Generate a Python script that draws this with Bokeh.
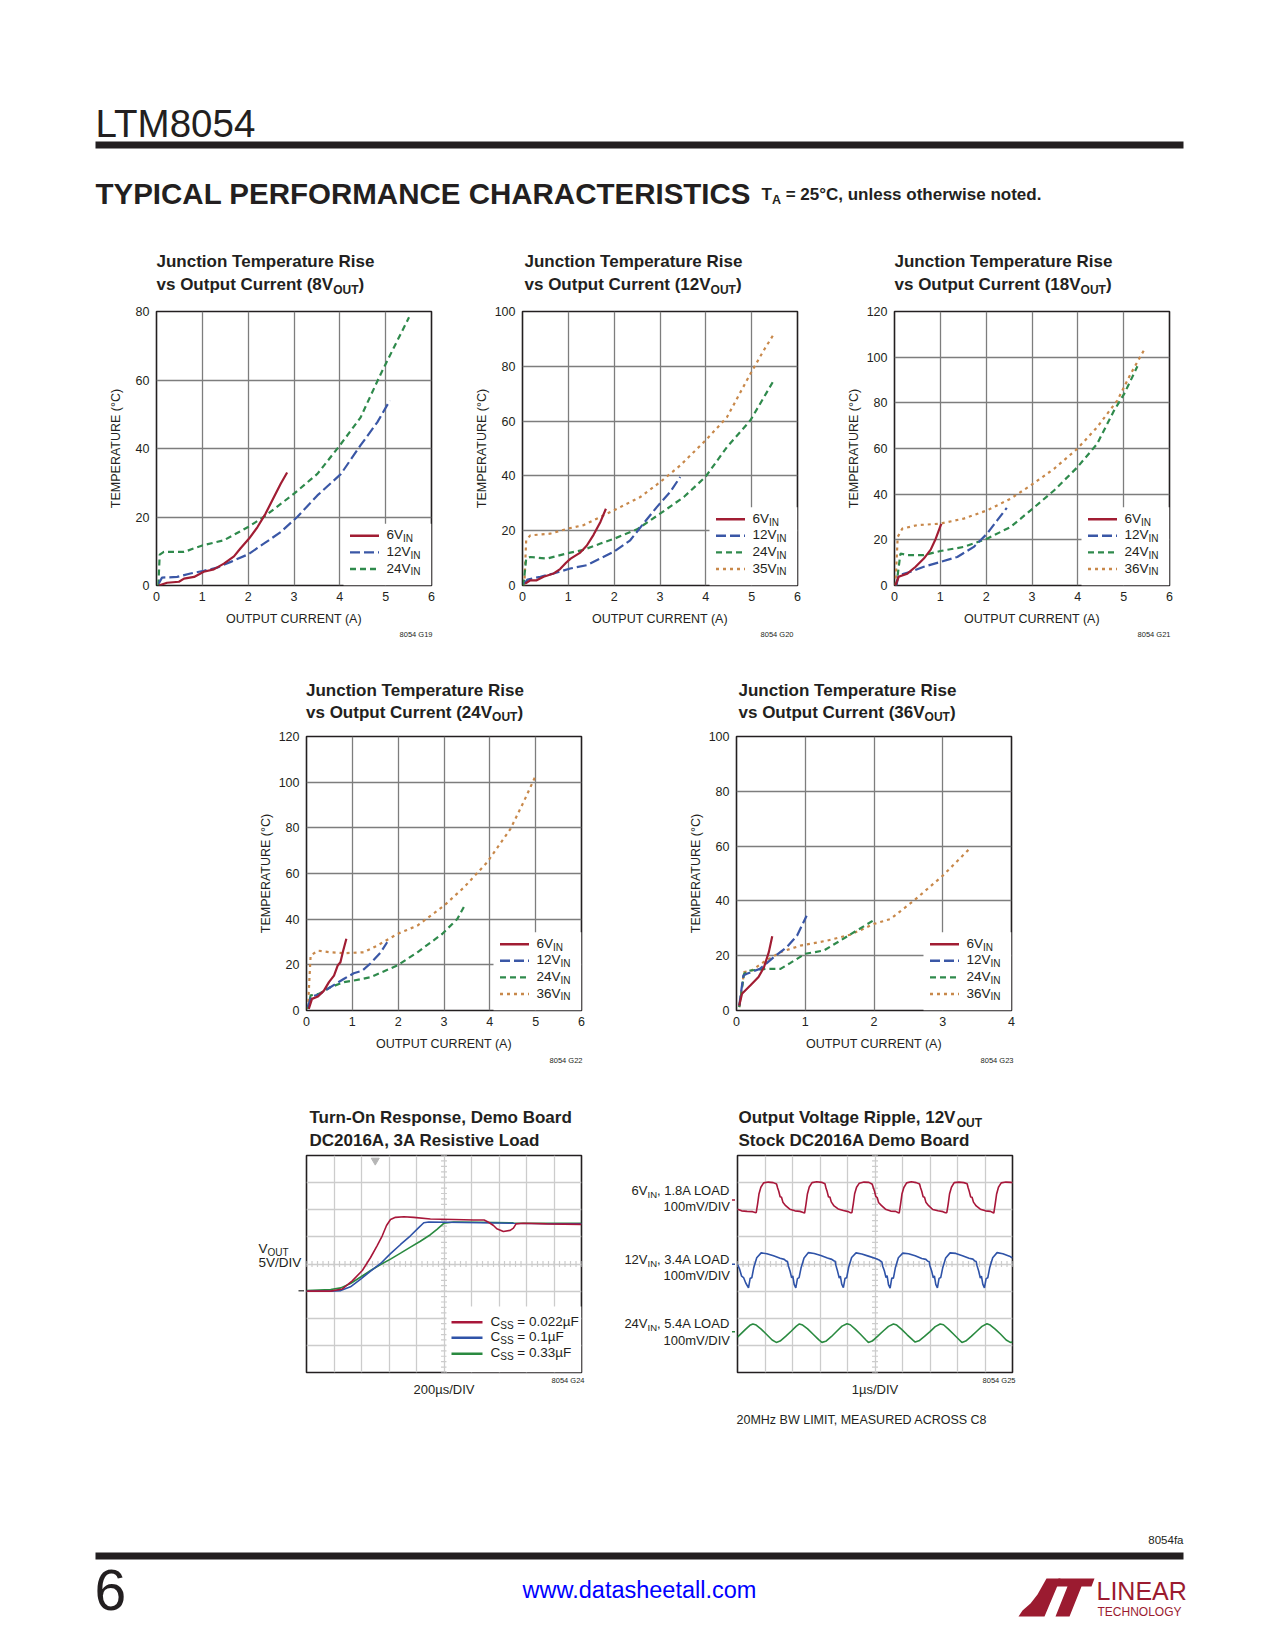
from bokeh.plotting import figure
from bokeh.models import Range1d, Label, FixedTicker, Grid
from bokeh.layouts import column, row
from bokeh.embed import file_html
from bokeh.resources import INLINE
import numpy as np

# ---------------------------------------------------------------- data
X_TICKS_6 = [0, 1, 2, 3, 4, 5, 6]
X_TICKS_4 = [0, 1, 2, 3, 4]
Y_TICKS_80 = [0, 20, 40, 60, 80]
Y_TICKS_100 = [0, 20, 40, 60, 80, 100]
Y_TICKS_120 = [0, 20, 40, 60, 80, 100, 120]

# 8V OUT
I1_6 = [0.05, 0.23, 0.49, 0.60, 0.82, 1.03, 1.25, 1.47, 1.69, 1.83, 2.02, 2.20, 2.38, 2.56, 2.71, 2.85]
T1_6 = [0.0, 0.8, 1.1, 2.0, 2.5, 4.0, 4.7, 6.4, 8.5, 10.8, 13.7, 17.0, 21.0, 25.8, 29.7, 33.0]
I1_12 = [0.05, 0.12, 0.45, 0.74, 1.03, 1.32, 1.62, 2.00, 2.34, 2.71, 3.07, 3.51, 4.02, 4.45, 4.82, 5.09]
T1_12 = [0.6, 2.3, 2.5, 3.5, 4.3, 5.2, 6.9, 9.1, 12.2, 15.6, 20.0, 26.3, 32.5, 40.9, 47.7, 54.0]
I1_24 = [0.04, 0.07, 0.16, 0.60, 1.00, 1.47, 2.00, 2.34, 3.00, 3.51, 4.00, 4.45, 4.89, 5.18, 5.51]
T1_24 = [0.0, 9.0, 9.8, 9.8, 11.7, 13.2, 17.1, 20.0, 26.8, 32.6, 40.9, 49.0, 61.7, 69.5, 78.3]

# 12V OUT
I2_6 = [0.06, 0.17, 0.31, 0.46, 0.68, 0.82, 0.95, 1.05, 1.26, 1.40, 1.55, 1.70, 1.82]
T2_6 = [0.7, 1.9, 1.9, 3.2, 4.4, 6.0, 8.3, 9.8, 12.0, 14.5, 18.5, 23.2, 28.0]
I2_12 = [0.04, 0.11, 0.39, 0.68, 1.04, 1.40, 1.99, 2.35, 2.64, 2.93, 3.22, 3.44]
T2_12 = [0.7, 2.2, 3.2, 4.4, 6.2, 7.4, 12.3, 16.5, 22.6, 28.6, 34.1, 39.6]
I2_24 = [0.02, 0.08, 0.17, 0.53, 0.97, 1.33, 1.70, 1.99, 2.50, 3.00, 3.52, 3.99, 4.46, 4.97, 5.48]
T2_24 = [0.0, 9.8, 10.4, 9.8, 11.7, 13.0, 15.3, 17.0, 20.5, 26.2, 32.3, 39.6, 50.5, 60.2, 74.8]
I2_35 = [0.04, 0.08, 0.17, 0.60, 1.00, 1.33, 1.99, 2.57, 3.00, 3.44, 3.99, 4.46, 4.97, 5.26, 5.48]
T2_35 = [0.0, 16.5, 18.3, 18.9, 20.8, 22.0, 27.4, 32.3, 37.7, 43.8, 52.9, 61.4, 77.2, 85.7, 91.7]

# 18V OUT
I3_6 = [0.02, 0.09, 0.28, 0.46, 0.64, 0.79, 0.90, 1.02]
T3_6 = [0.0, 3.8, 5.2, 8.2, 11.8, 15.7, 20.5, 27.0]
I3_12 = [0.04, 0.09, 0.35, 0.64, 1.00, 1.37, 1.73, 2.02, 2.24, 2.45]
T3_12 = [0.0, 4.5, 6.0, 8.2, 10.3, 12.5, 16.9, 22.7, 28.5, 34.0]
I3_24 = [0.04, 0.13, 0.28, 0.64, 1.00, 1.51, 2.02, 2.53, 2.97, 3.48, 3.99, 4.42, 4.79, 5.01, 5.15, 5.30]
T3_24 = [0.0, 14.0, 13.3, 13.3, 15.1, 16.9, 20.5, 25.6, 32.9, 41.6, 51.8, 62.0, 76.6, 83.9, 89.7, 96.0]
I3_36 = [0.02, 0.07, 0.17, 0.49, 1.00, 1.51, 2.02, 2.53, 2.97, 3.48, 3.99, 4.42, 4.86, 5.15, 5.47]
T3_36 = [0.0, 21.3, 24.9, 26.4, 27.1, 29.3, 32.9, 38.0, 43.8, 51.1, 59.9, 69.3, 81.0, 92.6, 104.0]

# 24V OUT
I4_6 = [0.05, 0.12, 0.25, 0.38, 0.49, 0.60, 0.68, 0.74, 0.80, 0.87]
T4_6 = [0.7, 5.1, 6.1, 8.7, 12.4, 15.3, 19.7, 21.1, 26.2, 31.4]
I4_12 = [0.03, 0.10, 0.27, 0.52, 0.82, 1.03, 1.22, 1.40, 1.62, 1.76]
T4_12 = [1.5, 6.1, 7.0, 10.2, 13.9, 16.3, 17.5, 20.7, 25.5, 29.9]
I4_24 = [0.03, 0.09, 0.27, 0.52, 0.82, 1.03, 1.40, 1.98, 2.42, 2.96, 3.29, 3.47]
T4_24 = [0.7, 6.6, 7.3, 10.2, 12.4, 13.1, 14.6, 19.7, 25.5, 33.5, 40.1, 46.7]
I4_36 = [0.03, 0.09, 0.25, 0.52, 0.82, 1.25, 1.54, 1.98, 2.42, 3.00, 3.44, 3.94, 4.45, 4.75, 5.00]
T4_36 = [0.7, 24.1, 26.2, 25.5, 25.1, 25.5, 28.4, 33.5, 37.2, 45.9, 54.0, 64.9, 79.5, 91.9, 102.8]

# 36V OUT
I5_6 = [0.04, 0.08, 0.20, 0.32, 0.40, 0.47, 0.52]
T5_6 = [1.8, 6.1, 9.1, 12.2, 15.8, 21.3, 27.1]
I5_12 = [0.04, 0.10, 0.15, 0.34, 0.54, 0.73, 0.88, 1.02]
T5_12 = [1.8, 12.8, 13.4, 15.2, 19.4, 23.1, 27.3, 34.6]
I5_24 = [0.04, 0.11, 0.20, 0.44, 0.64, 0.78, 1.00, 1.27, 1.51, 1.75, 2.00]
T5_24 = [1.2, 13.4, 14.6, 15.2, 15.2, 17.3, 20.7, 21.9, 25.5, 29.2, 33.0]
I5_36 = [0.04, 0.11, 0.22, 0.39, 0.64, 0.93, 1.32, 1.66, 2.00, 2.24, 2.58, 3.00, 3.40]
T5_36 = [1.2, 14.0, 14.6, 17.6, 21.3, 23.7, 25.5, 27.7, 31.6, 33.4, 40.1, 49.2, 59.3]

# Turn-on response (time in us, Vout in V), 200us/DIV, 5V/DIV, ground at 3 DIV
TON_T_022 = [0, 176, 261, 333, 406, 466, 514, 551, 582, 611, 647, 708, 780, 901, 1070, 1215, 1292, 1324, 1360, 1384, 1432, 1481, 1505, 1524, 1577, 1746, 2000]
TON_V_022 = [0.0, 0.0, 0.4, 1.9, 3.8, 6.2, 8.4, 10.2, 12.1, 13.2, 13.6, 13.7, 13.6, 13.3, 13.2, 13.1, 13.1, 12.7, 12.1, 11.5, 11.0, 11.2, 11.6, 12.4, 12.5, 12.4, 12.3]
TON_T_01 = [0, 176, 249, 320, 394, 466, 539, 611, 684, 756, 816, 853, 889, 1022, 1263, 1505, 2000]
TON_V_01 = [0.0, 0.0, 0.1, 0.8, 2.2, 3.7, 5.1, 6.9, 8.6, 10.2, 11.7, 12.6, 12.75, 12.7, 12.6, 12.5, 12.4]
TON_T_033 = [0, 176, 249, 320, 394, 466, 539, 611, 684, 756, 828, 901, 949, 998, 1070, 1263, 1505, 2000]
TON_V_033 = [0.1, 0.3, 0.6, 1.4, 2.6, 3.8, 4.9, 5.9, 7.0, 8.1, 9.2, 10.4, 11.4, 12.5, 12.75, 12.7, 12.6, 12.5]
TON_LABELS = ["0.022µF", "0.1µF", "0.33µF"]
TON_US_PER_DIV = 200
TON_V_PER_DIV = 5
TON_GROUND_DIV = 3
TON_TRIGGER_US = 500

# Output ripple (time in us = DIV, level in screen DIV)
RIP_T_6 = [0.00, 0.15, 0.35, 0.55, 0.64,
           0.68, 0.73, 0.78, 0.85, 0.95, 1.12, 1.30, 1.42, 1.46, 1.50, 1.55, 1.60, 1.65, 1.75, 1.90, 2.09, 2.27, 2.39,
           2.44, 2.49, 2.54, 2.61, 2.71, 2.88, 3.06, 3.18, 3.22, 3.26, 3.31, 3.36, 3.41, 3.51, 3.66, 3.85, 4.03, 4.11,
           4.16, 4.21, 4.26, 4.33, 4.43, 4.60, 4.78, 4.90, 4.94, 4.98, 5.03, 5.08, 5.13, 5.23, 5.38, 5.57, 5.75, 5.83,
           5.88, 5.93, 5.98, 6.05, 6.15, 6.32, 6.50, 6.62, 6.66, 6.70, 6.75, 6.80, 6.85, 6.95, 7.10, 7.29, 7.47, 7.56,
           7.61, 7.66, 7.71, 7.78, 7.88, 8.05, 8.23, 8.35, 8.39, 8.43, 8.48, 8.53, 8.58, 8.68, 8.83, 9.02, 9.20, 9.28,
           9.32, 9.37, 9.42, 9.49, 9.59, 9.76, 9.94, 10.00]
RIP_V_6 = [6.02, 5.96, 5.94, 5.93, 5.90,
           5.89, 6.21, 6.58, 6.83, 6.99, 7.02, 7.00, 6.95, 6.80, 6.68, 6.48, 6.46, 6.28, 6.15, 6.02, 5.96, 5.94, 5.90,
           5.88, 6.20, 6.57, 6.84, 7.00, 7.03, 7.01, 6.96, 6.79, 6.67, 6.47, 6.47, 6.29, 6.14, 6.03, 5.97, 5.93, 5.89,
           5.89, 6.22, 6.59, 6.83, 6.98, 7.02, 7.01, 6.94, 6.81, 6.69, 6.49, 6.45, 6.27, 6.16, 6.02, 5.95, 5.94, 5.90,
           5.88, 6.21, 6.58, 6.82, 6.99, 7.03, 7.00, 6.95, 6.80, 6.68, 6.48, 6.46, 6.28, 6.15, 6.01, 5.96, 5.93, 5.89,
           5.89, 6.20, 6.58, 6.83, 7.00, 7.02, 7.00, 6.96, 6.80, 6.67, 6.47, 6.46, 6.28, 6.14, 6.02, 5.96, 5.94, 5.90,
           5.88, 6.21, 6.57, 6.83, 6.99, 7.02, 7.01, 7.00]
RIP_T_12 = [0.00, 0.08, 0.15, 0.22, 0.30, 0.40,
            0.46, 0.52, 0.59, 0.70, 0.86, 1.07, 1.31, 1.55,
            1.70, 1.77, 1.82, 1.85, 1.91, 1.97, 2.01, 2.06, 2.12, 2.18, 2.24, 2.31, 2.42, 2.58, 2.79, 3.03, 3.27,
            3.43, 3.50, 3.55, 3.58, 3.64, 3.70, 3.74, 3.79, 3.85, 3.91, 3.97, 4.04, 4.15, 4.31, 4.52, 4.76, 5.00,
            5.13, 5.20, 5.25, 5.28, 5.34, 5.40, 5.44, 5.49, 5.55, 5.61, 5.67, 5.74, 5.85, 6.01, 6.22, 6.46, 6.70,
            6.85, 6.92, 6.97, 7.00, 7.06, 7.12, 7.16, 7.21, 7.27, 7.33, 7.39, 7.46, 7.57, 7.73, 7.94, 8.18, 8.42,
            8.56, 8.63, 8.68, 8.71, 8.77, 8.83, 8.87, 8.92, 8.98, 9.04, 9.10, 9.17, 9.28, 9.44, 9.65, 9.89, 10.00]
RIP_V_12 = [3.99, 3.80, 3.55, 3.50, 3.30, 3.12,
            3.47, 3.49, 3.86, 4.23, 4.41, 4.38, 4.30, 4.21,
            4.17, 4.11, 4.09, 3.93, 3.74, 3.49, 3.56, 3.25, 3.12, 3.46, 3.50, 3.85, 4.22, 4.42, 4.39, 4.31, 4.22,
            4.17, 4.12, 4.10, 3.94, 3.73, 3.48, 3.55, 3.26, 3.13, 3.47, 3.49, 3.87, 4.24, 4.41, 4.37, 4.29, 4.21,
            4.16, 4.11, 4.08, 3.92, 3.75, 3.50, 3.57, 3.24, 3.11, 3.48, 3.48, 3.86, 4.23, 4.40, 4.38, 4.30, 4.20,
            4.17, 4.10, 4.09, 3.93, 3.74, 3.49, 3.56, 3.25, 3.12, 3.47, 3.50, 3.85, 4.22, 4.41, 4.39, 4.30, 4.21,
            4.18, 4.11, 4.09, 3.94, 3.74, 3.48, 3.55, 3.26, 3.12, 3.46, 3.49, 3.86, 4.23, 4.42, 4.38, 4.29, 4.22]
RIP_T_24 = [0.00, 0.15, 0.30, 0.45, 0.56, 0.68, 0.86, 1.06, 1.26, 1.41, 1.55, 1.75, 1.95, 2.13, 2.25,
            2.37, 2.55, 2.75, 2.95, 3.07, 3.21, 3.41, 3.61, 3.80, 3.98, 4.10, 4.28, 4.48, 4.68, 4.76,
            4.90, 5.10, 5.30, 5.49, 5.67, 5.79, 5.97, 6.17, 6.37, 6.46, 6.60, 6.80, 7.00, 7.19, 7.37,
            7.49, 7.67, 7.87, 8.07, 8.16, 8.30, 8.50, 8.70, 8.89, 9.07, 9.19, 9.37, 9.57, 9.77, 9.92, 10.00]
RIP_V_24 = [1.30, 1.45, 1.60, 1.74, 1.79, 1.75, 1.60, 1.40, 1.20, 1.11, 1.16, 1.33, 1.52, 1.70, 1.79,
            1.75, 1.61, 1.41, 1.21, 1.11, 1.15, 1.32, 1.52, 1.71, 1.80, 1.76, 1.60, 1.40, 1.19, 1.11,
            1.16, 1.34, 1.53, 1.70, 1.79, 1.75, 1.59, 1.39, 1.20, 1.12, 1.17, 1.33, 1.51, 1.69, 1.79,
            1.76, 1.60, 1.40, 1.20, 1.11, 1.16, 1.33, 1.52, 1.70, 1.80, 1.75, 1.60, 1.41, 1.20, 1.11, 1.12]
RIP_MARKERS_DIV = [6.40, 3.99, 1.46]
RIP_LABELS = [("6V", ", 1.8A LOAD"), ("12V", ", 3.4A LOAD"), ("24V", ", 5.4A LOAD")]

# ---------------------------------------------------------------- style
FONT = "Liberation Sans"
INK = "#231f20"
RED = "#a11d33"
BLUE = "#3a57a6"
GREEN = "#2f8a4c"
ORANGE = "#c8884a"
GRID = "#7d7d7d"
SGRID = "#cccccc"
S_RED = "#a8173a"
S_BLUE = "#2f53a8"
S_GREEN = "#2a8a40"
LOGO = "#9b1b30"

_R = {' ': 278, '(': 333, ')': 333, '/': 278, ',': 278, '.': 278, '-': 333, '=': 584, '°': 400, 'µ': 576}
_B = {' ': 278, '(': 333, ')': 333, '/': 278, ',': 278, '.': 278, '-': 333, '=': 584, '°': 400, 'µ': 611}
for _d in '0123456789':
    _R[_d] = 556
    _B[_d] = 556
_R.update(dict(zip("ABCDEFGHIJKLMNOPQRSTUVWXYZ", [667, 667, 722, 722, 667, 611, 778, 722, 278, 500, 667, 556, 833, 722, 778, 667, 778, 722, 667, 611, 722, 667, 944, 667, 667, 611])))
_R.update(dict(zip("abcdefghijklmnopqrstuvwxyz", [556, 556, 500, 556, 556, 278, 556, 556, 222, 222, 500, 222, 833, 556, 556, 556, 556, 333, 500, 278, 556, 500, 722, 500, 500, 500])))
_B.update(dict(zip("ABCDEFGHIJKLMNOPQRSTUVWXYZ", [722, 722, 722, 722, 667, 611, 778, 722, 278, 556, 722, 611, 833, 722, 778, 667, 778, 722, 667, 611, 722, 667, 944, 667, 667, 611])))
_B.update(dict(zip("abcdefghijklmnopqrstuvwxyz", [556, 611, 556, 611, 556, 333, 611, 611, 278, 278, 556, 278, 889, 611, 611, 611, 611, 389, 556, 333, 611, 556, 778, 556, 556, 500])))


def tw(s, size, bold=False):
    d = _B if bold else _R
    return sum(d.get(c, 556) for c in s) / 1000.0 * size


class Pane:
    """A figure placed at page position (fig_left, fig_top) whose frame sits at (fl, ft, fw, fh)."""

    def __init__(self, fig_left, fig_top, width, height, fl=None, ft=None, fw=None, fh=None,
                 xr=None, yr=None, axes=False):
        fl = fig_left if fl is None else fl
        ft = fig_top if ft is None else ft
        fw = width if fw is None else fw
        fh = height if fh is None else fh
        xr = (0, fw) if xr is None else xr
        yr = (0, fh) if yr is None else yr
        self.fl, self.ft, self.fw, self.fh = fl, ft, fw, fh
        self.xr, self.yr = xr, yr
        self.p = figure(width=width, height=height,
                        x_range=Range1d(*xr), y_range=Range1d(*yr),
                        min_border_left=fl - fig_left, min_border_right=fig_left + width - fl - fw,
                        min_border_top=ft - fig_top, min_border_bottom=fig_top + height - ft - fh,
                        output_backend="svg", toolbar_location=None,
                        x_axis_type="linear" if axes else None,
                        y_axis_type="linear" if axes else None)
        self.p.title.visible = False
        self.p.background_fill_color = "white"
        self.p.border_fill_color = "white"
        self.p.outline_line_color = None

    def dx(self, px):
        return self.xr[0] + (px - self.fl) * (self.xr[1] - self.xr[0]) / self.fw

    def dy(self, py):
        return self.yr[1] - (py - self.ft) * (self.yr[1] - self.yr[0]) / self.fh

    def label(self, px, py, text, size, bold=False, align="left", color=INK):
        # py is the text baseline; the label is anchored at its vertical middle
        cy = py - 0.35 * size
        self.p.add_layout(Label(x=self.dx(px), y=self.dy(cy), text=text, text_font=FONT,
                                text_font_size="%.1fpx" % size,
                                text_font_style="bold" if bold else "normal",
                                text_align=align, text_baseline="middle", text_color=color))

    def rich(self, px, py, pieces, size, bold=False, align="left", color=INK, sub_size=None, drop=None):
        ss = sub_size if sub_size else size * 0.72
        dr = drop if drop is not None else size * 0.2
        widths = [tw(t, ss if s else size, bold) for t, s in pieces]
        total = sum(widths)
        x = px if align == "left" else (px - total if align == "right" else px - total / 2)
        for (t, s), w in zip(pieces, widths):
            sz = ss if s else size
            stripped = t.lstrip(" ")
            lead = tw(t[:len(t) - len(stripped)], sz, bold)
            self.label(x + lead, py + (dr if s else 0), stripped, sz, bold=bold, color=color)
            x += w


def title2(P, x, y1, y2, line1, line2_pieces, line1_sub=None):
    P.label(x, y1, line1, 17, bold=True)
    if line1_sub:
        P.label(x + tw(line1, 17, True), y1 + 3, line1_sub, 12, bold=True)
    P.rich(x, y2, line2_pieces, 17, bold=True, sub_size=12, drop=3)


STYLE = {"6V": (RED, "solid"), "12V": (BLUE, "10 4"), "24V": (GREEN, "6 4"),
         "35V": (ORANGE, "3 4"), "36V": (ORANGE, "3 4")}


def temp_chart(P, xt, yt, series, y_standoff):
    p = P.p
    p.xaxis.ticker = FixedTicker(ticks=xt)
    p.yaxis.ticker = FixedTicker(ticks=yt)
    p.xgrid.ticker = FixedTicker(ticks=xt)
    p.ygrid.ticker = FixedTicker(ticks=yt)
    p.xgrid.grid_line_color = GRID
    p.ygrid.grid_line_color = GRID
    p.xgrid.grid_line_width = 1.3
    p.ygrid.grid_line_width = 1.3
    for ax in (p.xaxis[0], p.yaxis[0]):
        ax.axis_line_color = None
        ax.major_tick_line_color = None
        ax.minor_tick_line_color = None
        ax.major_tick_out = 0
        ax.major_tick_in = 0
        ax.major_label_text_font = FONT
        ax.major_label_text_font_size = "12.5px"
        ax.major_label_text_color = INK
        ax.axis_label_text_font = FONT
        ax.axis_label_text_font_size = "12.5px"
        ax.axis_label_text_font_style = "normal"
        ax.axis_label_text_color = INK
    p.xaxis.axis_label = "OUTPUT CURRENT (A)"
    p.yaxis.axis_label = "TEMPERATURE (°C)"
    p.xaxis.major_label_standoff = 6
    p.yaxis.major_label_standoff = 7
    p.xaxis.axis_label_standoff = 8
    p.yaxis.axis_label_standoff = y_standoff
    p.outline_line_color = INK
    p.outline_line_width = 1.6
    for xs, ys, name in reversed(series):
        col, dash = STYLE[name]
        p.line(xs, ys, line_color=col, line_width=2.2, line_dash=dash)
    # legend (white box, samples, labels with subscripts)
    fr = P.fl + P.fw
    fb = P.ft + P.fh
    n = len(series)
    centers = [fb - (16.5 + 16.6 * k) for k in range(n)][::-1]
    p.quad(left=[P.dx(fr - 88)], right=[P.dx(fr)], bottom=[P.dy(fb)], top=[P.dy(centers[0] - 12)],
           fill_color="white", line_color=None)
    for (xs, ys, name), c in zip(series, centers):
        col, dash = STYLE[name]
        p.segment(x0=[P.dx(fr - 81.5)], x1=[P.dx(fr - 52.5)], y0=[P.dy(c)], y1=[P.dy(c)],
                  line_color=col, line_width=2.4, line_dash=dash)
        P.rich(fr - 45, c + 3.8, [(name, False), ("IN", True)], 13.5, sub_size=10, drop=2.5)


def scope_base(P):
    p = P.p
    p.outline_line_color = INK
    p.outline_line_width = 1.6
    p.add_layout(Grid(dimension=0, ticker=FixedTicker(ticks=list(range(0, 11))),
                      grid_line_color=SGRID, grid_line_width=1.3))
    p.add_layout(Grid(dimension=1, ticker=FixedTicker(ticks=list(range(0, 9))),
                      grid_line_color=SGRID, grid_line_width=1.3))
    tx = np.arange(0, 10.001, 0.2)
    ty = np.arange(0, 8.001, 0.2)
    hx = 3.0 * 10 / P.fw
    hy = 3.0 * 8 / P.fh
    p.segment(x0=tx, x1=tx, y0=4 - hy, y1=4 + hy, line_color=SGRID, line_width=1.2)
    p.segment(x0=5 - hx, x1=5 + hx, y0=ty, y1=ty, line_color=SGRID, line_width=1.2)


W = 1270
# ---------------------------------------------------------------- panes (page coordinates)
BA = Pane(0, 0, W, 301)                                   # header + row-1 titles
P1 = Pane(0, 301, 470, 329, 156, 311, 275, 274, (0, 6), (0, 80), True)
P2 = Pane(470, 301, 365, 329, 522, 311, 275, 274, (0, 6), (0, 100), True)
P3 = Pane(835, 301, W - 835, 329, 894, 311, 275, 274, (0, 6), (0, 120), True)
BB = Pane(0, 630, W, 96)                                  # row-1 codes + row-2 titles
P4 = Pane(0, 726, 650, 329, 306, 736, 275, 274, (0, 6), (0, 120), True)
P5 = Pane(650, 726, W - 650, 329, 736, 736, 275, 274, (0, 4), (0, 100), True)
BC = Pane(0, 1055, W, 98)                                 # row-2 codes + row-3 titles
TL = Pane(0, 1153, 304, 221)
P6 = Pane(304, 1153, 279, 221, 306, 1155, 275, 217, (0, 10), (0, 8), False)
TM = Pane(583, 1153, 152, 221)
P7 = Pane(735, 1153, 279, 221, 737, 1155, 275, 217, (0, 10), (0, 8), False)
TR = Pane(1014, 1153, W - 1014, 221)
BD = Pane(0, 1374, W, 271)                                # row-3 notes + footer

# ---- header
BA.label(95, 136, "LTM8054", 38.5)
BA.p.quad(left=[BA.dx(95)], right=[BA.dx(1183)], top=[BA.dy(141)], bottom=[BA.dy(148)],
          fill_color=INK, line_color=None)
BA.label(95, 203, "TYPICAL PERFORMANCE CHARACTERISTICS", 29.5, bold=True)
BA.rich(761, 200, [("T", False), ("A", True), (" = 25°C, unless otherwise noted.", False)], 17, bold=True,
        sub_size=12.5, drop=3.5)

# ---- titles
L1 = "Junction Temperature Rise"
title2(BA, 156, 267.2, 290.2, L1, [("vs Output Current (8V", False), ("OUT", True), (")", False)])
title2(BA, 524, 267.2, 290.2, L1, [("vs Output Current (12V", False), ("OUT", True), (")", False)])
title2(BA, 894, 267.2, 290.2, L1, [("vs Output Current (18V", False), ("OUT", True), (")", False)])
title2(BB, 305.5, 695.5, 718.0, L1, [("vs Output Current (24V", False), ("OUT", True), (")", False)])
title2(BB, 738, 695.5, 718.0, L1, [("vs Output Current (36V", False), ("OUT", True), (")", False)])
title2(BC, 309, 1123.2, 1145.5, "Turn-On Response, Demo Board", [("DC2016A, 3A Resistive Load", False)])
title2(BC, 738, 1123.2, 1145.5, "Output Voltage Ripple, 12V", [("Stock DC2016A Demo Board", False)],
       line1_sub="OUT")

# ---- codes
BB.label(432, 636.5, "8054 G19", 7.5, align="right")
BB.label(793, 636.5, "8054 G20", 7.5, align="right")
BB.label(1170, 636.5, "8054 G21", 7.5, align="right")
BC.label(582, 1062.5, "8054 G22", 7.5, align="right")
BC.label(1013, 1062.5, "8054 G23", 7.5, align="right")

# ---- temperature charts
temp_chart(P1, X_TICKS_6, Y_TICKS_80,
           [(I1_6, T1_6, "6V"), (I1_12, T1_12, "12V"), (I1_24, T1_24, "24V")], 10)
temp_chart(P2, X_TICKS_6, Y_TICKS_100,
           [(I2_6, T2_6, "6V"), (I2_12, T2_12, "12V"), (I2_24, T2_24, "24V"), (I2_35, T2_35, "35V")], 3)
temp_chart(P3, X_TICKS_6, Y_TICKS_120,
           [(I3_6, T3_6, "6V"), (I3_12, T3_12, "12V"), (I3_24, T3_24, "24V"), (I3_36, T3_36, "36V")], 3)
temp_chart(P4, X_TICKS_6, Y_TICKS_120,
           [(I4_6, T4_6, "6V"), (I4_12, T4_12, "12V"), (I4_24, T4_24, "24V"), (I4_36, T4_36, "36V")], 3)
temp_chart(P5, X_TICKS_4, Y_TICKS_100,
           [(I5_6, T5_6, "6V"), (I5_12, T5_12, "12V"), (I5_24, T5_24, "24V"), (I5_36, T5_36, "36V")], 3)

# ---- turn-on scope
scope_base(P6)
p6 = P6.p
for ts, vs, col in [(TON_T_033, TON_V_033, S_GREEN), (TON_T_01, TON_V_01, S_BLUE), (TON_T_022, TON_V_022, S_RED)]:
    p6.line([t / TON_US_PER_DIV for t in ts], [TON_GROUND_DIV + v / TON_V_PER_DIV for v in vs],
            line_color=col, line_width=1.6)
p6.scatter(x=[TON_TRIGGER_US / TON_US_PER_DIV], y=[P6.dy(1160)], marker="inverted_triangle",
           size=8, color="#b5b5b5")
fr6 = P6.fl + P6.fw
fb6 = P6.ft + P6.fh
p6.quad(left=[P6.dx(fr6 - 135)], right=[P6.dx(fr6)], bottom=[P6.dy(fb6)], top=[P6.dy(fb6 - 66)],
        fill_color="white", line_color=None)
for lab, col, up in zip(TON_LABELS, [S_RED, S_BLUE, S_GREEN], [50.3, 34.7, 18.7]):
    c = fb6 - up
    p6.segment(x0=[P6.dx(fr6 - 130)], x1=[P6.dx(fr6 - 99)], y0=[P6.dy(c)], y1=[P6.dy(c)],
               line_color=col, line_width=2.6)
    P6.rich(fr6 - 91, c + 3.8, [("C", False), ("SS", True), (" = " + lab, False)], 13.5, sub_size=10, drop=2.5)
# ground marker just left of the frame
gy = P6.ft + P6.fh * (1 - TON_GROUND_DIV / 8)
TL.p.segment(x0=[TL.dx(298)], x1=[TL.dx(304)], y0=[TL.dy(gy)], y1=[TL.dy(gy)],
             line_color="#555555", line_width=1.5)
TL.rich(258, 1252.5, [("V", False), ("OUT", True)], 13.5, sub_size=10, drop=2.5)
TL.label(258, 1267.2, "5V/DIV", 13.5)

# ---- ripple scope
scope_base(P7)
p7 = P7.p
for ts, vs, col in [(RIP_T_6, RIP_V_6, S_RED), (RIP_T_12, RIP_V_12, S_BLUE), (RIP_T_24, RIP_V_24, S_GREEN)]:
    p7.line(ts, vs, line_color=col, line_width=1.6)
for m, col in zip(RIP_MARKERS_DIV, [S_RED, S_BLUE, S_GREEN]):
    my = P7.ft + P7.fh * (1 - m / 8)
    TM.p.segment(x0=[TM.dx(731.5)], x1=[TM.dx(735)], y0=[TM.dy(my)], y1=[TM.dy(my)],
                 line_color=col, line_width=1.5)
for (a, b), y1, y2 in zip(RIP_LABELS, [1193.5, 1263.5, 1328.5], [1209.5, 1279.8, 1345.5]):
    TM.rich(729.5, y1, [(a, False), ("IN", True), (b, False)], 13, align="right", sub_size=9.5, drop=2.5)
    TM.label(729.5, y2, "100mV/DIV", 13, align="right")

# ---- below row 3 and footer
BD.label(443.5, 1393.4, "200µs/DIV", 13, align="center")
BD.label(584, 1383, "8054 G24", 7.5, align="right")
BD.label(874.5, 1393.4, "1µs/DIV", 13, align="center")
BD.label(1015, 1383, "8054 G25", 7.5, align="right")
BD.label(736, 1423.4, "20MHz BW LIMIT, MEASURED ACROSS C8", 12.5)

BD.label(1183, 1544, "8054fa", 11.5, align="right")
BD.p.quad(left=[BD.dx(95)], right=[BD.dx(1183)], top=[BD.dy(1552)], bottom=[BD.dy(1559)],
          fill_color=INK, line_color=None)
BD.label(94, 1609, "6", 57)
BD.label(639, 1598, "www.datasheetall.com", 23.5, align="center", color="#0000ff")
lx = [[1046, 1060, 1044, 1018, 1022, 1030, 1037], [1058, 1094, 1091, 1081, 1069, 1055, 1067, 1055]]
ly = [[1578, 1578, 1616, 1616, 1610, 1603, 1594], [1578, 1578, 1586, 1586, 1616, 1616, 1586, 1586]]
BD.p.patches([[BD.dx(v) for v in xs] for xs in lx], [[BD.dy(v) for v in ys] for ys in ly],
             fill_color=LOGO, line_color=None)
BD.label(1096, 1599, "LINEAR", 25, color=LOGO)
BD.label(1097, 1615.5, "TECHNOLOGY", 12, color=LOGO)

layout = column(BA.p,
                row(P1.p, P2.p, P3.p, spacing=0),
                BB.p,
                row(P4.p, P5.p, spacing=0),
                BC.p,
                row(TL.p, P6.p, TM.p, P7.p, TR.p, spacing=0),
                BD.p,
                spacing=0)

open("out.html", "w").write(file_html(layout, INLINE))
